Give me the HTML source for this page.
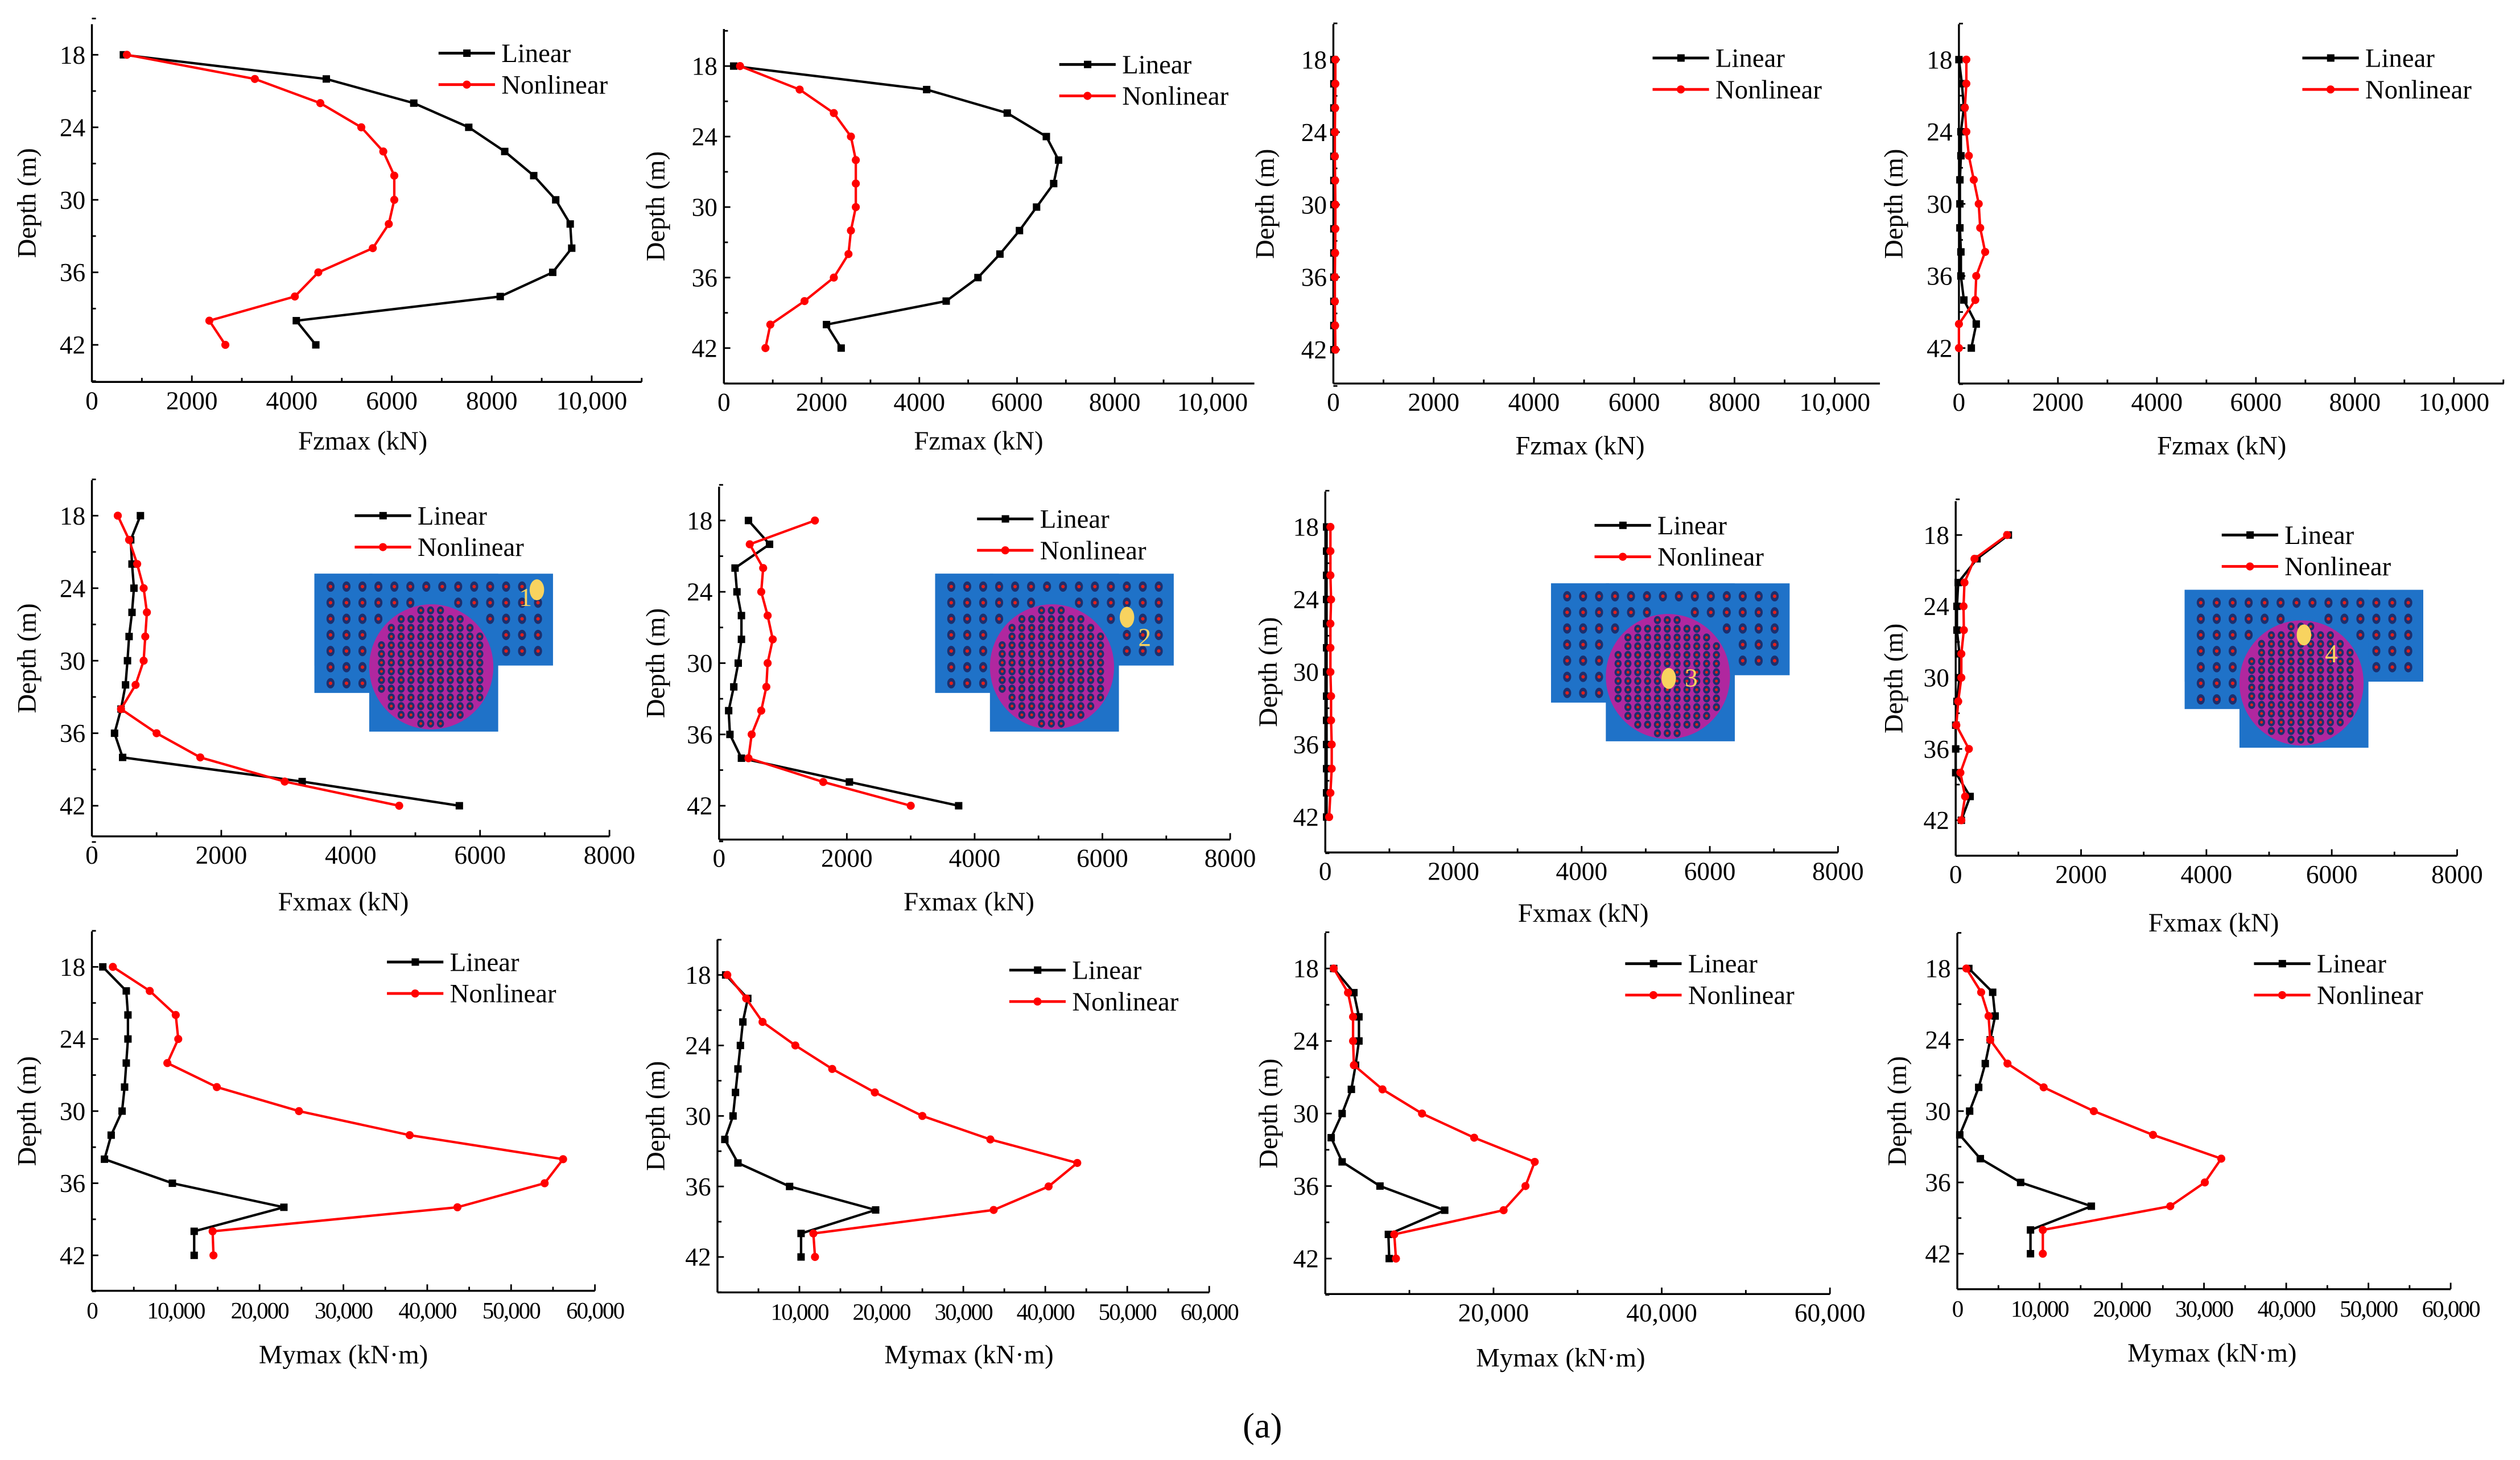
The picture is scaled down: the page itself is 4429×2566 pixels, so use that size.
<!DOCTYPE html>
<html><head><meta charset="utf-8"><style>
html,body{margin:0;padding:0;background:#fff;}
svg{display:block;font-family:"Liberation Serif","Times New Roman",serif;}
svg text{font-family:"Liberation Serif","Times New Roman",serif;fill:#000;}
</style></head><body>
<svg id="chart" xmlns="http://www.w3.org/2000/svg" width="4429" height="2566" viewBox="0 0 1563 906" preserveAspectRatio="none" font-family="Liberation Serif, serif">
<text x="783" y="892" font-size="22" text-anchor="middle" font-family="Liberation Serif, serif">(a)</text>
</svg>
<script>
const depths=[18,20,22,24,26,28,30,32,34,36,38,40,42];
const depthTicks=[18,24,30,36,42];
const fzTicks=[0,2000,4000,6000,8000,10000];
const fxTicks=[0,2000,4000,6000,8000];
const myTicksFull=[0,10000,20000,30000,40000,50000,60000];
const myTicksNoZero=[10000,20000,30000,40000,50000,60000];
const myTicksSparse=[20000,40000,60000];
// Row 1: Fzmax
const fzLin1=[630,4690,6440,7540,8260,8840,9280,9570,9600,9220,8170,4090,4480];
const fzNon1=[700,3260,4570,5390,5830,6050,6050,5940,5620,4530,4060,2350,2670];
const fzLin2=[200,4150,5800,6600,6850,6750,6400,6050,5650,5200,4550,2100,2400];
const fzNon2=[330,1550,2250,2600,2700,2700,2700,2600,2550,2250,1650,950,850];
const fzLin3=[10,10,10,10,10,10,10,10,10,10,10,10,10];
const fzNon3=[40,40,35,30,30,35,40,40,35,30,30,35,40];
const fzLin4=[0,60,100,40,40,20,20,20,40,40,100,350,250];
const fzNon4=[150,150,120,150,200,300,400,430,530,350,330,0,0];
// Row 2: Fxmax
const fxLin5=[750,600,620,650,620,575,550,520,450,350,475,3250,5680];
const fxNon5=[400,575,700,800,850,825,800,675,450,1000,1675,2980,4750];
const fxLin6=[460,790,250,280,350,350,300,230,150,170,350,2040,3750];
const fxNon6=[1500,480,690,660,760,840,760,740,660,510,460,1630,3000];
const fxLin7=[20,20,20,20,20,20,20,20,20,20,20,20,20];
const fxNon7=[80,80,80,90,80,80,80,90,90,100,100,80,60];
const fxLin8=[840,340,40,20,20,60,60,20,0,0,0,230,90];
const fxNon8=[820,300,140,125,130,90,90,40,10,210,75,150,90];
// Row 3: Mymax
const myLin9=[1300,4100,4300,4300,4100,3900,3600,2300,1500,9600,22900,12200,12200];
const myNon9=[2500,6900,10000,10300,9000,14900,24700,37900,56200,54000,43600,14400,14500];
const myLin10=[1000,3700,3100,2800,2500,2200,1900,900,2500,8800,19300,10200,10200];
const myNon10=[1200,3500,5500,9500,14000,19200,25000,33300,43900,40400,33700,11700,11900];
const myLin11=[1000,3400,4000,4000,3600,3100,2000,700,2000,6500,14200,7500,7600];
const myNon11=[1000,2700,3300,3300,3400,6800,11500,17700,24900,23800,21200,8200,8400];
const myLin12=[1400,4300,4600,4000,3400,2600,1500,300,2800,7700,16300,8900,8900];
const myNon12=[1100,2900,3800,4000,6100,10500,16600,23800,32100,30100,25900,10400,10400];

const NS='http://www.w3.org/2000/svg';
const svg=document.getElementById('chart');
const FF='Liberation Serif, serif';
function mk(tag,attrs,parent){const e=document.createElementNS(NS,tag);for(const k in attrs)e.setAttribute(k,attrs[k]);if(tag==='text')e.setAttribute('font-family',FF);(parent||svg).appendChild(e);return e;}
function fmt(v){return v>=10000?String(v).replace(/\B(?=(\d{3})+(?!\d))/g,','):String(v);}

const layouts=[
 {id:'fz-1',x0:57,xt:367,vt:10000,xe:398,top:15,bot:237,y18:34,y42:214,ticks:fzTicks,minor:1000,xl:'Fzmax (kN)',xlx:225,xly:279,ylx:22,lin:fzLin1,non:fzNon1,lg:[272,33],fs:16},
 {id:'fz-2',x0:449,xt:752,vt:10000,xe:778,top:18,bot:238,y18:41,y42:216,ticks:fzTicks,minor:1000,xl:'Fzmax (kN)',xlx:607,xly:279,ylx:412,lin:fzLin2,non:fzNon2,lg:[657,40],fs:16},
 {id:'fz-3',x0:827,xt:1138,vt:10000,xe:1166,top:15,bot:238,y18:37,y42:217,ticks:fzTicks,minor:1000,xl:'Fzmax (kN)',xlx:980,xly:282,ylx:790,lin:fzLin3,non:fzNon3,lg:[1025,36],fs:16},
 {id:'fz-4',x0:1215,xt:1522,vt:10000,xe:1553,top:15,bot:238,y18:37,y42:216,ticks:fzTicks,minor:1000,xl:'Fzmax (kN)',xlx:1378,xly:282,ylx:1180,lin:fzLin4,non:fzNon4,lg:[1428,36],fs:16},
 {id:'fx-5',x0:57,xt:378,vt:8000,xe:378,top:298,bot:519,y18:320,y42:500,ticks:fxTicks,minor:1000,xl:'Fxmax (kN)',xlx:213,xly:565,ylx:22,lin:fxLin5,non:fxNon5,lg:[220,320],fs:16,inset:[195,356,138,10,'1',127,20]},
 {id:'fx-6',x0:446,xt:763,vt:8000,xe:763,top:302,bot:521,y18:323,y42:500,ticks:fxTicks,minor:1000,xl:'Fxmax (kN)',xlx:601,xly:565,ylx:412,lin:fxLin6,non:fxNon6,lg:[606,322],fs:16,inset:[580,356,119,27,'2',126,45]},
 {id:'fx-7',x0:822,xt:1140,vt:8000,xe:1140,top:305,bot:529,y18:327,y42:507,ticks:fxTicks,minor:1000,xl:'Fxmax (kN)',xlx:982,xly:572,ylx:792,lin:fxLin7,non:fxNon7,lg:[989,326],fs:16,inset:[962,362,73,59,'3',83,64]},
 {id:'fx-8',x0:1213,xt:1524,vt:8000,xe:1524,top:311,bot:531,y18:332,y42:509,ticks:fxTicks,minor:1000,xl:'Fxmax (kN)',xlx:1373,xly:578,ylx:1180,lin:fxLin8,non:fxNon8,lg:[1378,332],fs:16,inset:[1355,366,74,28,'4',87,45]},
 {id:'my-9',x0:57,xt:369,vt:60000,xe:369,top:578,bot:801,y18:600,y42:779,ticks:myTicksFull,minor:5000,xl:'Mymax (kN·m)',xlx:213,xly:846,ylx:22,lin:myLin9,non:myNon9,lg:[240,597],fs:14.5,sq:true},
 {id:'my-10',x0:445,xt:750,vt:60000,xe:750,top:583,bot:802,y18:605,y42:780,ticks:myTicksNoZero,minor:5000,xl:'Mymax (kN·m)',xlx:601,xly:846,ylx:412,lin:myLin10,non:myNon10,lg:[626,602],fs:14.5,sq:true},
 {id:'my-11',x0:822,xt:1135,vt:60000,xe:1135,top:579,bot:803,y18:601,y42:781,ticks:myTicksSparse,minor:10000,xl:'Mymax (kN·m)',xlx:968,xly:848,ylx:792,lin:myLin11,non:myNon11,lg:[1008,598],fs:16},
 {id:'my-12',x0:1214,xt:1520,vt:60000,xe:1520,top:579,bot:800,y18:601,y42:778,ticks:myTicksFull,minor:5000,xl:'Mymax (kN·m)',xlx:1372,xly:845,ylx:1182,lin:myLin12,non:myNon12,lg:[1398,598],fs:14.5,sq:true}
];

function drawInset(g,ox,oy,yx,yy,lab,lx,ly){
  const blue='#1f72c8';
  mk('rect',{x:ox,y:oy,width:148,height:57,fill:blue},g);
  mk('rect',{x:ox,y:oy,width:36,height:74,fill:blue},g);
  mk('rect',{x:ox+34,y:oy,width:80,height:98,fill:blue},g);
  const cx=ox+72.5,cy=oy+57.8,rx=38.5,ry=38.8;
  const circ=mk('ellipse',{cx:cx,cy:cy,rx:rx,ry:ry,fill:'#b0279f'},g);
  
  
  for(let j=0;j<7;j++){for(let i=0;i<14;i++){
    const px=ox+10+i*9.9,py=oy+8+j*10;
    const inTop=py<oy+54, inLeft=(px<ox+33&&py<oy+72);
    if(!(inTop||inLeft))continue;
    const dx=(px-cx)/(rx+3),dy=(py-cy)/(ry+3);
    if(dx*dx+dy*dy<1)continue;
    mk('ellipse',{cx:px,cy:py,rx:2.5,ry:3.2,fill:'#1c2f6e'},g);
    mk('circle',{cx:px,cy:py,r:1.1,fill:'#e0201c'},g);
  }}
  for(let j=0;j<14;j++){for(let i=0;i<13;i++){
    const px=cx-37+i*6.1,py=cy-35+j*5.4;
    const dx=(px-cx)/(rx-2.5),dy=(py-cy)/(ry-2.5);
    if(dx*dx+dy*dy>1)continue;
    mk('ellipse',{cx:px,cy:py,rx:2.2,ry:2.5,fill:'#1c2f6e'},g);
    mk('circle',{cx:px,cy:py,r:0.9,fill:'#e0201c'},g);
  }}
  const ym=mk('ellipse',{cx:ox+yx,cy:oy+yy,rx:4.5,ry:6.5,fill:'#f8d35f'},g);
  
  
  const t=mk('text',{x:ox+lx,y:oy+ly,'font-size':16,fill:'#f8d35f'},g);
  t.style.fill='#f8d35f';
  t.textContent=lab;
}

layouts.forEach(L=>{
  const g=mk('g',{});
  
  
  const sx=v=>L.x0+v*(L.xt-L.x0)/L.vt;
  const sy=d=>L.y18+(d-18)*(L.y42-L.y18)/24;
  if(L.inset){const ig=mk('g',{},g);drawInset(ig,...L.inset);}
  const ya=mk('line',{x1:L.x0,y1:L.top,x2:L.x0,y2:L.bot,stroke:'#000','stroke-width':1.2},g);
  
  
  const xa=mk('line',{x1:L.x0,y1:L.bot,x2:L.xe,y2:L.bot,stroke:'#000','stroke-width':1.2},g);
  
  
  depthTicks.forEach(d=>{
    mk('line',{x1:L.x0,y1:sy(d),x2:L.x0+4,y2:sy(d),stroke:'#000','stroke-width':1},g);
    const t=mk('text',{x:L.x0-4,y:sy(d)+5.5,'font-size':16,'text-anchor':'end'},g);
    
    
    t.textContent=d;
    mk('line',{x1:L.x0,y1:sy(d+3),x2:L.x0+2.5,y2:sy(d+3),stroke:'#000','stroke-width':1},g);
  });
  mk('line',{x1:L.x0,y1:sy(15),x2:L.x0+2.5,y2:sy(15),stroke:'#000','stroke-width':1},g);
  for(let v=0;sx(v)<=L.xe+0.5;v+=L.minor){
    const isMajor=(v%(L.minor*2)===0);
    mk('line',{x1:sx(v),y1:L.bot,x2:sx(v),y2:L.bot-(isMajor?4:2.5),stroke:'#000','stroke-width':1},g);
  }
  L.ticks.forEach(v=>{
    const t=mk('text',{x:sx(v),y:L.bot+17,'font-size':L.fs,'text-anchor':'middle'},g);
    
    
    if(L.sq)t.setAttribute('letter-spacing','-0.7');
    t.textContent=fmt(v);
  });
  const xl=mk('text',{x:L.xlx,y:L.xly,'font-size':16.5,'text-anchor':'middle'},g);
  
  
  xl.textContent=L.xl;
  const yc=(L.top+L.bot)/2;
  const yl=mk('text',{x:L.ylx,y:yc,'font-size':16.5,'text-anchor':'middle',transform:'rotate(-90 '+L.ylx+' '+yc+')'},g);
  
  
  yl.textContent='Depth (m)';
  const series=[[L.lin,'#000','sq','Linear'],[L.non,'#f00','ci','Nonlinear']];
  series.forEach((s,si)=>{
    const pts=s[0].map((v,i)=>sx(v).toFixed(2)+','+sy(depths[i]).toFixed(2)).join(' ');
    const pl=mk('polyline',{points:pts,fill:'none',stroke:s[1],'stroke-width':1.5},g);
    
    
    s[0].forEach((v,i)=>{
      let m;
      if(s[2]==='sq')m=mk('rect',{x:sx(v)-2.3,y:sy(depths[i])-2.3,width:4.6,height:4.6,fill:s[1]},g);
      else m=mk('circle',{cx:sx(v),cy:sy(depths[i]),r:2.5,fill:s[1]},g);
      
      
    });
    const lx=L.lg[0],ly=L.lg[1]+si*19.5;
    const le=mk('g',{},g);
    
    
    mk('line',{x1:lx,y1:ly,x2:lx+35,y2:ly,stroke:s[1],'stroke-width':1.7},le);
    if(s[2]==='sq')mk('rect',{x:lx+15.3,y:ly-2.3,width:4.6,height:4.6,fill:s[1]},le);
    else mk('circle',{cx:lx+17.5,cy:ly,r:2.5,fill:s[1]},le);
    const lt=mk('text',{x:lx+39,y:ly+5.5,'font-size':16.5},le);
    lt.textContent=s[3];
  });
});
</script>
</body></html>
